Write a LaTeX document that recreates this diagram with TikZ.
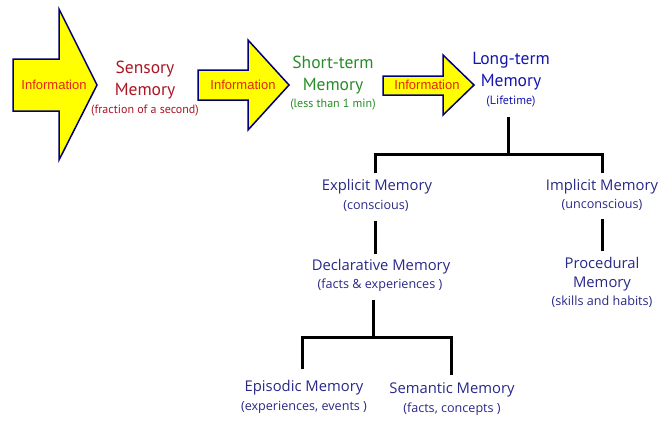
\documentclass[tikz,border=0pt]{standalone}
\usepackage{fontspec}
\setmainfont{PT Sans}
\newfontfamily\infofont{Liberation Sans}
\newfontfamily\treefont{Open Sans}
\usepackage{tikz}
\usetikzlibrary{calc,positioning}
\definecolor{InfoFill}{RGB}{255,255,0}
\definecolor{InfoLine}{RGB}{0,0,120}
\definecolor{InfoText}{RGB}{232,36,16}
\definecolor{SensRed}{RGB}{170,22,36}
\definecolor{StmGreen}{RGB}{40,140,40}
\definecolor{LtmBlue}{RGB}{22,22,175}
\definecolor{TreeBlue}{RGB}{40,40,135}

\begin{document}
\begin{tikzpicture}[x=1pt, y=-1pt,
        infoarrow/.style={draw=InfoLine, fill=InfoFill, line width=1.5pt, line join=miter},
        info/.style={font=\infofont\fontsize{13}{15}\selectfont, text=InfoText, inner sep=0pt},
        stage/.style={font=\fontsize{17.5}{22}\selectfont, align=center, inner sep=1pt},
        stagesub/.style={font=\fontsize{12}{14}\selectfont, inner sep=1pt},
        kind/.style={font=\treefont\fontsize{14.8}{19}\selectfont, text=TreeBlue, align=center, inner sep=1pt},
        kindsub/.style={font=\treefont\fontsize{12.6}{14}\selectfont, text=TreeBlue, inner sep=1pt},
        branch/.style={line width=3pt, draw=black}
      ]
        \useasboundingbox (0,0) rectangle (672,431);
        % flow of information
        \draw[infoarrow] (13,59) -- (59,59) -- (59,9) -- (97,85) -- (59,160) -- (59,111) -- (13,111) -- cycle;
        \draw[infoarrow] (198,70) -- (248,70) -- (248,40) -- (289,85) -- (248,130) -- (248,100) -- (198,100) -- cycle;
        \draw[infoarrow] (383,76) -- (443,76) -- (443,55) -- (474,85) -- (443,115) -- (443,95) -- (383,95) -- cycle;
        \node[info] (info1) at (54,85) {Information};
        \node[info] (info2) at (243,85) {Information};
        \node[info] (info3) at (427,85) {Information};
        \node[stage, text=SensRed] (sensory) at (145,80) {Sensory\\Memory};
        \node[stagesub, text=SensRed] (sensorysub) at (145,111) {(fraction of a second)};
        \node[stage, text=StmGreen] (short) at (333,75) {Short-term\\Memory};
        \node[stagesub, text=StmGreen] (shortsub) at (333,105) {(less than 1 min)};
        \node[stage, text=LtmBlue] (long) at (511,71) {Long-term\\Memory};
        \node[stagesub, text=LtmBlue] (longsub) at (511,102) {(Lifetime)};
        % kinds of long-term memory
        \node[kind] (explicit) at (377,187) {Explicit Memory};
        \node[kindsub] (explicitsub) at (376,206) {(conscious)};
        \node[kind] (implicit) at (602,187) {Implicit Memory};
        \node[kindsub] (implicitsub) at (602,205) {(unconscious)};
        \node[kind] (declarative) at (381,267) {Declarative Memory};
        \node[kindsub] (declarativesub) at (380,285) {(facts \& experiences )};
        \node[kind] (procedural) at (602,274.5) {Procedural\\Memory};
        \node[kindsub] (proceduralsub) at (602,302) {(skills and habits)};
        \node[kind] (episodic) at (304,388) {Episodic Memory};
        \node[kindsub] (episodicsub) at (304,407) {(experiences, events )};
        \node[kind] (semantic) at (452,390) {Semantic Memory};
        \node[kindsub] (semanticsub) at (452,409) {(facts, concepts )};
        \coordinate (ltbar) at (508,154);
        \coordinate (declbar) at (373,337);
        \draw[branch] ($(ltbar |- longsub.south)+(0,8)$) -- (ltbar);
        \draw[branch] ([xshift=-2pt,yshift=5pt]explicit.north) |- (ltbar) -| ([yshift=5pt]implicit.north);
        \draw[branch] ([xshift=-1pt,yshift=-8pt]explicitsub.south) -- ([xshift=-6pt,yshift=4pt]declarative.north);
        \draw[branch] ([yshift=-7pt]implicitsub.south) -- ([yshift=5pt]procedural.north);
        \draw[branch] ($(declbar |- declarativesub.south)+(0,7)$) -- (declbar);
        \draw[branch] ([xshift=-2pt,yshift=10pt]episodic.north) |- (declbar) -| ([xshift=-1pt,yshift=7pt]semantic.north);
      \end{tikzpicture}
\end{document}
